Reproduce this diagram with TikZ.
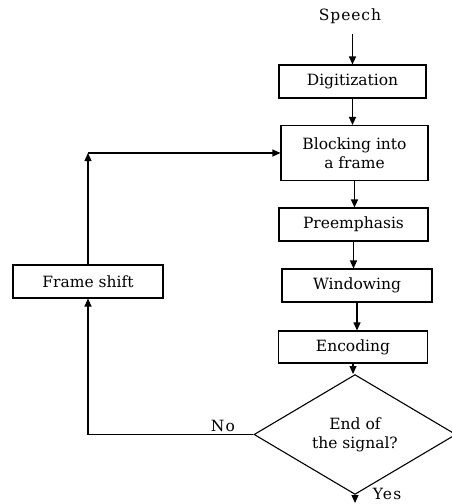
\documentclass[tikz,border=0pt]{standalone}
\usepackage{fontspec}
\setmainfont{DejaVu Serif}
\usetikzlibrary{arrows.meta,shapes.geometric}
\begin{document}
\begin{tikzpicture}[x=1pt,y=-1pt,
  font=\fontsize{15.5}{19}\selectfont,
  box/.style={draw,line width=1.1pt,inner sep=0pt,align=center},
  flow/.style={draw,line width=1.1pt,-{Triangle[length=8pt,width=7pt]}},
  plain/.style={draw,line width=1.1pt}]
\useasboundingbox (0,0) rectangle (451,504);
\node[font=\fontsize{15.5}{19}\addfontfeature{LetterSpace=6}] (speech) at (350,16) {Speech};
\node[box,minimum width=147pt,minimum height=33pt] (dig) at (352.5,81.5) {Digitization};
\node[box,minimum width=147pt,minimum height=55pt] (block) at (354.5,153) {Blocking into\\a frame};
\node[box,minimum width=149pt,minimum height=33pt] (pre) at (353.5,224.5) {Preemphasis};
\node[box,minimum width=150pt,minimum height=33pt] (win) at (357,285.5) {Windowing};
\node[box,minimum width=149pt,minimum height=32pt] (enc) at (353,347) {Encoding};
\node[draw,line width=1.1pt,shape=diamond,minimum width=202pt,minimum height=87pt,inner sep=0pt,align=center] (dia) at (355,434.5) {End of\\the signal?};
\node[box,minimum width=150pt,minimum height=33pt] (fs) at (88,281.5) {Frame shift};
\coordinate (corner) at (88,153);
\coordinate (nocorner) at (88,434.5);
\coordinate (yesend) at (355,503);
\node[font=\fontsize{15.5}{19}\addfontfeature{LetterSpace=8}] (no) at (223,426) {No};
\node[font=\fontsize{15.5}{19}\addfontfeature{LetterSpace=8}] (yes) at (387,494) {Yes};

\draw[flow,shorten <=7pt] (speech.south -| dig.north) -- (dig.north);
\draw[flow] (dig.south) -- (dig.south |- block.north);
\draw[flow] (block.south) -- (block.south |- pre.north);
\draw[flow] (pre.south) -- (pre.south |- win.north);
\draw[flow] (win.south) -- (win.south |- enc.north);
\draw[flow] (enc.south) -- (enc.south |- dia.north);
\draw[flow] (dia.south) -- (yesend);
\draw[plain] (dia.west) -- (nocorner);
\draw[flow] (nocorner) -- (fs.south);
\draw[flow] (fs.north) -- (corner);
\draw[flow] (corner) -- (block.west);
\end{tikzpicture}
\end{document}
